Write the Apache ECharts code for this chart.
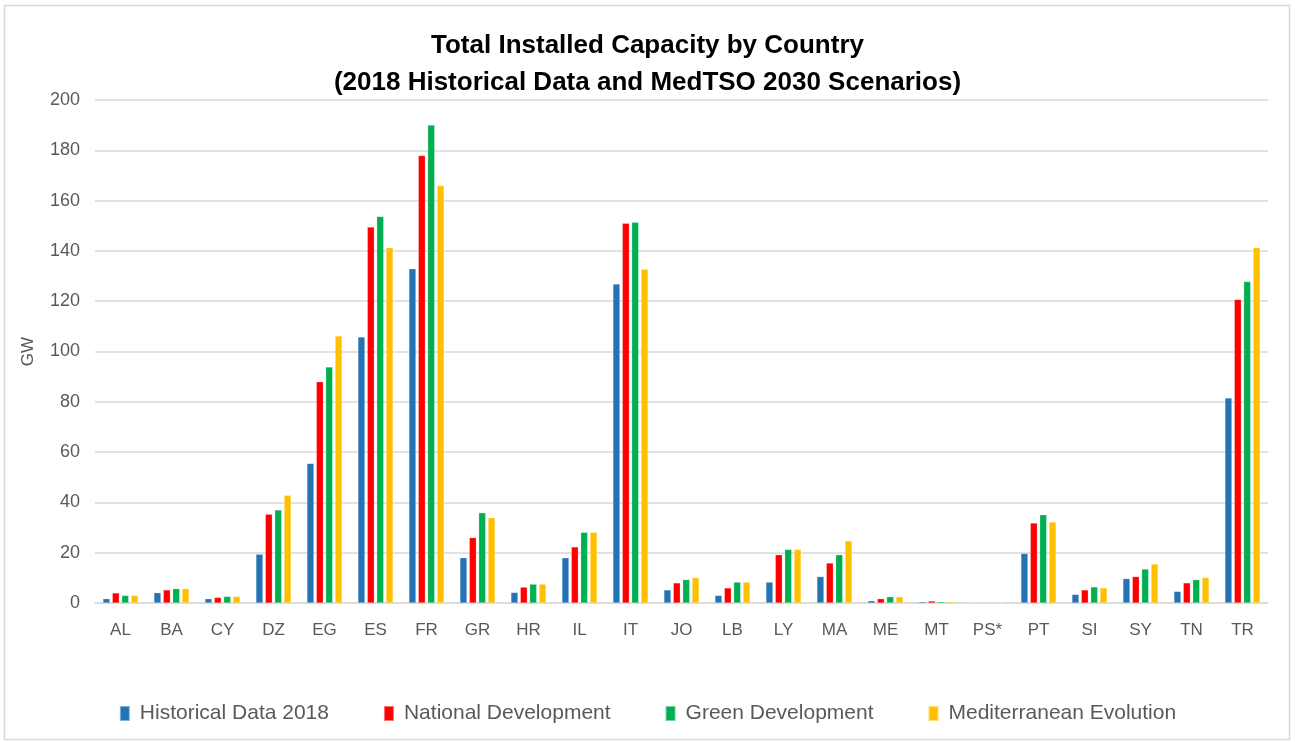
<!DOCTYPE html>
<html>
<head>
<meta charset="utf-8">
<title>Total Installed Capacity by Country</title>
<script src="https://cdn.jsdelivr.net/npm/echarts@6/dist/echarts.min.js"></script>
<style>
  html, body { margin: 0; padding: 0; background: #ffffff; }
  #chart { width: 1295px; height: 742px; }
</style>
</head>
<body>
<div id="chart"></div>
<script>
// Countries of the Mediterranean region
const countries = ['AL','BA','CY','DZ','EG','ES','FR','GR','HR','IL','IT','JO','LB','LY','MA','ME','MT','PS*','PT','SI','SY','TN','TR'];

// Installed capacity in GW
const historical2018 = [1.7, 4.1, 1.7, 19.4, 55.5, 105.8, 132.9, 18.0, 4.2, 18.0, 126.8, 5.2, 3.0, 8.3, 10.5, 0.9, 0.5, 0, 19.7, 3.4, 9.7, 4.6, 81.5];
const nationalDevelopment = [4.0, 5.2, 2.2, 35.3, 88.0, 149.5, 177.9, 26.0, 6.3, 22.3, 151.0, 8.0, 6.0, 19.2, 15.9, 1.7, 0.8, 0, 31.8, 5.2, 10.5, 8.0, 120.7];
const greenDevelopment = [3.0, 5.7, 2.6, 37.0, 93.8, 153.7, 190.1, 35.9, 7.5, 28.1, 151.4, 9.3, 8.3, 21.3, 19.2, 2.5, 0.5, 0, 35.1, 6.4, 13.5, 9.3, 127.8];
const mediterraneanEvolution = [3.0, 5.7, 2.6, 42.8, 106.2, 141.3, 166.0, 33.9, 7.5, 28.1, 132.7, 10.1, 8.3, 21.3, 24.7, 2.5, 0.5, 0, 32.2, 6.0, 15.5, 10.1, 141.3];

const seriesNames = ['Historical Data 2018', 'National Development', 'Green Development', 'Mediterranean Evolution'];
const seriesColors = ['#2474B5', '#FF0000', '#00B050', '#FFC000'];
const seriesValues = [historical2018, nationalDevelopment, greenDevelopment, mediterraneanEvolution];

const yTicks = { min: 0, max: 200, interval: 20 };

const textFont = '"Liberation Sans Narrow", "Liberation Sans", Arial, sans-serif';
const textGray = '#595959';

const chart = echarts.init(document.getElementById('chart'), null, { renderer: 'canvas' });

chart.setOption({
  backgroundColor: '#ffffff',
  animation: false,
  title: {
    text: 'Total Installed Capacity by Country\n(2018 Historical Data and MedTSO 2030 Scenarios)',
    left: 'center',
    top: 22,
    textStyle: {
      fontFamily: textFont,
      fontWeight: 'bold',
      fontSize: 26,
      lineHeight: 37,
      color: '#000000'
    }
  },
  graphic: [{
    type: 'rect',
    shape: { x: 4.5, y: 5.5, width: 1285, height: 734 },
    style: { fill: 'none', stroke: '#D9D9D9', lineWidth: 1.5 },
    silent: true
  }],
  legend: {
    bottom: 13,
    left: 'center',
    itemWidth: 10,
    itemHeight: 15,
    itemGap: 54,
    icon: 'rect',
    textStyle: {
      fontFamily: textFont,
      fontSize: 21,
      color: textGray,
      padding: [0, 0, 0, 5]
    },
    data: seriesNames
  },
  grid: {
    left: 95,
    right: 27,
    top: 100,
    bottom: 139,
    containLabel: false
  },
  xAxis: {
    type: 'category',
    data: countries,
    axisLine: { show: true, lineStyle: { color: '#D9D9D9', width: 1.5 } },
    axisTick: { show: false },
    axisLabel: {
      fontFamily: textFont,
      fontSize: 17,
      color: textGray,
      margin: 19
    }
  },
  yAxis: {
    type: 'value',
    min: yTicks.min,
    max: yTicks.max,
    interval: yTicks.interval,
    name: 'GW',
    nameLocation: 'middle',
    nameGap: 58,
    nameRotate: 90,
    nameTextStyle: {
      fontFamily: textFont,
      fontSize: 17,
      color: textGray
    },
    axisLine: { show: false },
    axisTick: { show: false },
    axisLabel: {
      fontFamily: textFont,
      fontSize: 18,
      color: textGray,
      margin: 15
    },
    splitLine: { show: true, lineStyle: { color: '#D9D9D9', width: 1.5 } }
  },
  series: seriesValues.map((values, i) => ({
    name: seriesNames[i],
    type: 'bar',
    data: values,
    barWidth: 7,
    barGap: '34%',
    itemStyle: {
      color: seriesColors[i],
      borderColor: 'rgba(255,255,255,0.45)',
      borderWidth: 0.5
    }
  }))
});
</script>
</body>
</html>
